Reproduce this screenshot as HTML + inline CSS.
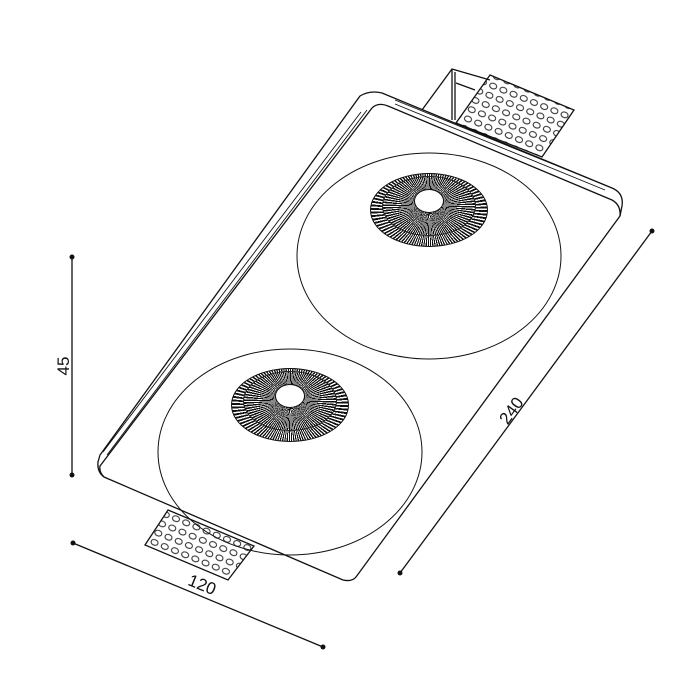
<!DOCTYPE html>
<html><head><style>
html,body{margin:0;padding:0;background:#fff;width:700px;height:700px;overflow:hidden;position:relative}
.ros{position:absolute;border-radius:50%;background:repeating-conic-gradient(#111 0deg 2deg,#fff 2deg 3.6deg);border:1.5px solid #111;box-sizing:border-box}
.ros2{position:absolute;border-radius:50%;background:repeating-conic-gradient(#111 0deg 2.2deg,#fff 2.2deg 3.6deg);box-sizing:border-box;border:1px solid #222}
.hole{position:absolute;border-radius:50%;background:#fff;border:1.5px solid #111;box-sizing:border-box}
svg{position:absolute;left:0;top:0}
.t{font-family:"Liberation Sans",sans-serif;font-size:17px;fill:#111}
</style></head><body>
<svg width="700" height="700" viewBox="0 0 700 700">
<defs>
<pattern id="dots" width="11" height="10" patternUnits="userSpaceOnUse" patternTransform="rotate(22)">
<ellipse cx="5.5" cy="5" rx="3.6" ry="2.8" fill="#fff" stroke="#222" stroke-width="1"/>
</pattern>
</defs>
<g fill="none" stroke="#111" stroke-width="1.3">
<!-- top bracket -->
<polyline points="422,110 452,69 490,80" fill="#fff"/>
<line x1="452" y1="70" x2="452" y2="120"/>
<line x1="455" y1="72" x2="455" y2="120"/>
<polyline points="456,83 475,90"/>
<polygon points="490,75 574,110 542,157 456,123" fill="url(#dots)"/>
<!-- bottom tab -->
<polygon points="168,510 254,546 228,580 145,545" fill="url(#dots)"/>
<!-- plate -->
<path d="M360,96 Q370,90 382,93 L612,188 Q624,193 622,206 L620,216 L356,577 Q352,582 343,580 L104,477 Q97,472 98,462 L100,455 Z" fill="#fff"/>
<path d="M372,108 Q378,102 388,106 L612,200 Q621,205 620,216" />
<path d="M372,108 L100,466 Q99,472 104,477"/>
<path d="M367,110 L107,455 M361,112 L103,452" stroke-width="0.9"/>
<path d="M395,104 L605,190 M395,100 L607,186" stroke-width="0.9"/>
<ellipse cx="429" cy="256" rx="132" ry="103" stroke-width="1"/>
<ellipse cx="290" cy="452" rx="132" ry="103" stroke-width="1"/>
<!-- dimensions -->
<line x1="72" y1="257" x2="72" y2="475"/>
<line x1="73" y1="543" x2="323" y2="647"/>
<line x1="652" y1="231" x2="400" y2="573"/>
</g>
<g fill="#111">
<circle cx="72" cy="257" r="2.5"/><circle cx="72" cy="475" r="2.5"/>
<circle cx="73" cy="543" r="2.5"/><circle cx="323" cy="647" r="2.5"/>
<circle cx="652" cy="231" r="2.5"/><circle cx="400" cy="573" r="2.5"/>
</g>
<text class="t" transform="translate(69,366) rotate(-90)" text-anchor="middle">45</text>
<text class="t" transform="translate(200,590) rotate(22)" text-anchor="middle">120</text>
<text class="t" transform="translate(516,414) rotate(-54)" text-anchor="middle">240</text>
</svg>
<div class="ros" style="left:370px;top:173px;width:118px;height:74px"></div>
<div class="ros2" style="left:382px;top:176px;width:94px;height:60px"></div>
<div class="hole" style="left:414px;top:189px;width:30px;height:24px"></div>
<div class="ros" style="left:231px;top:368px;width:118px;height:74px"></div>
<div class="ros2" style="left:243px;top:371px;width:94px;height:60px"></div>
<div class="hole" style="left:275px;top:384px;width:30px;height:24px"></div>
</body></html>
